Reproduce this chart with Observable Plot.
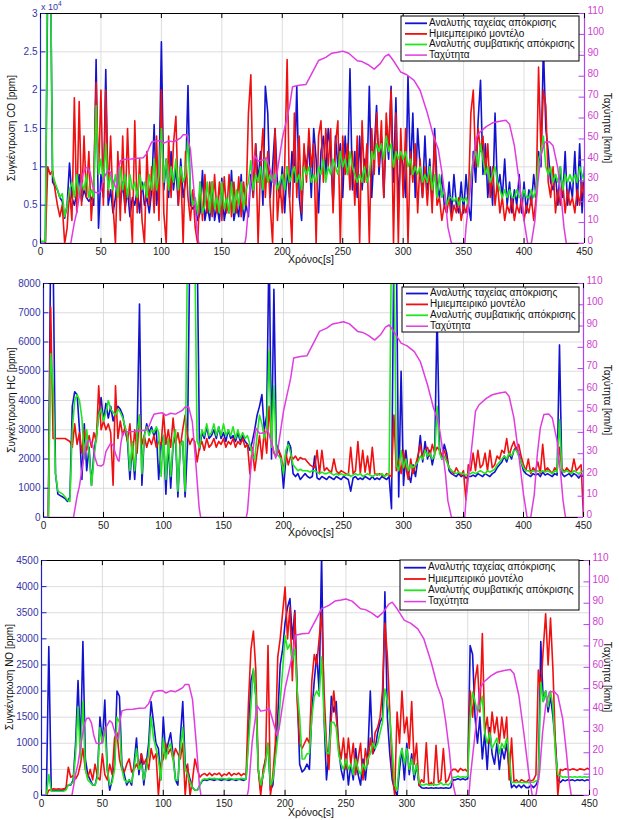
<!DOCTYPE html>
<html><head><meta charset="utf-8">
<script src="https://cdn.jsdelivr.net/npm/d3@7"></script>
<script src="https://cdn.jsdelivr.net/npm/@observablehq/plot@0.6"></script>
<style>
body{margin:0;background:#fff;}
#root{position:relative;width:619px;height:820px;overflow:hidden;font-family:"Liberation Sans",Arial,sans-serif;}
</style></head><body><div id="root"></div>
<script>
// ---------- data ----------
const tStep = 2; // seconds between samples of the emission series
const xTicks = [0,50,100,150,200,250,300,350,400,450];
const speedTicks = [0,10,20,30,40,50,60,70,80,90,100,110];
const legendLabels = ["Αναλυτής ταχείας απόκρισης","Ημιεμπειρικό μοντέλο","Αναλυτής συμβατικής απόκρισης","Ταχύτητα"];
const coTicks = [0,5000,10000,15000,20000,25000,30000];
const hcTicks = [0,1000,2000,3000,4000,5000,6000,7000,8000];
const noTicks = [0,500,1000,1500,2000,2500,3000,3500,4000,4500];

// vehicle speed [km/h]
const speedT = [0,25,28,30,33,35,37,39,41,43,45,48,50,52,54,56,58,60,62,63,64.5,66,70,75,80,85,88,90,92,96,99,102,106,110,113,116,118,121,124,127,129.7,131,169,170,173,177,180,185,187,189,193.5,195,200,206,208.5,214,219.5,225,230,236,241,246,250,255,262,266,271,276,281,285,288,292,298,303,309,314,320,325,329,332,335,337,340,351,352,355,358,360,363,369,374,380,385,388,392,396,400,403,406,409,411.5,414,417,421,424,428,431,433,435,450];
const speedV = [0,0,10,15,26,33,36,36.3,34,28,24.5,24.2,25,31,33,35,34,30,27,26.5,35,39.6,40.3,40.4,40.8,41,43,46,48.5,49,49.2,48,49,48.6,49.5,50.5,52,52,45,25,4.6,0,0,3,25,42,39.5,40,41,37,28,31,50,65.5,75,75.7,76,82,87.5,89,91,91.5,92,91,87.4,87,85.5,83.4,86,89.5,90.5,87.4,82,80.7,78,73.3,62.4,51.5,45.2,34.3,20.3,7.8,0,0,7.8,23.4,39,50,53,56,57.7,58.5,59,57,46.8,29.6,10.9,0,0,10.9,29.6,42,48.4,48.7,46.8,35.9,20.3,7.8,0,0];

// CO [x1000 ppm], one value every 2 s from t=0
const coFast = [
0,0,0,35,40,8,7.5,7,6,5.5,
3.3,5,10.5,6,5,6.5,9,5.5,7,6,
5.5,6,5,24,2,9,6,22.7,5,7,
4,6,9,5,8,4.5,7,3.5,6,5,
7,4,8,5,6,4,7,15.5,5,8,
26.3,7,11,6,12,7,10,5,11,6,
8,20.6,5,4.5,5,3,4,9.5,3,5,
3,8,3,5,2.8,8.5,3,5,4,9.5,
3,5,3.5,9,3,5,3.5,9,6,13,
8,12,5,20.5,17,6,10,15,8,6,
10,4,10,6,12,8,20.5,6,3,12,
10,13,6,15,11,4,12,14,9,15,
12,5,14,10,13,6,14,9,22.8,7,
12,6,14,7,11,8,20.5,6,12,18,
9,14,6,15,11,20.5,8,19,5,12,
10,6,21.8,9,17,6,15,10,6,14,
7,11,5,15,8,6,9,5,4,8,
4,9,5,4,8,4,9,5,3,12,
8,16,21.3,9,13,6,10,5,17,7,
9,6,11,5,8,4,7,5,9,4,
8,4,7,5,9,6,12,10,25.8,15,
12,8,7,9,5,10,6,12,5,8,
6,12,5,13,4,10];
const coModel = [
0,0,0,10,9,9.5,7,5,3.5,5,
0,2,7,3,19,4,18.5,5,14,6,
12,3,8,21,9,20,5,20,6,14,
5,0,12,3,14,4,15,6,0,16,
4,11,3,0,12,5,10,4,14,3,
20,4,0,14,6,13,16.6,5,10,0,
12,6,3,7,2,0,8,3,9,4,
8,3.5,9,4,8,3,8.7,4,9,3.5,
8,4,8.7,3.5,8,5,17,22,6,13,
0,10,15,6,12,5,0,15,3,8,
4,10,24,6,0,17,6,14,4,13,
8,15,10,13,0,14,16,8,15,10,
15,4,13,16,0,14,9,13,7,12,
5,14,0,16,8,13,0,15,9,17,
10,16,6,17,12,20,0,17,0,15,
6,15,0,12,8,13,4,11,6,10,
5,10,4,14,5,6,3,5,4,6,
3,5,4,6,3,5,4,6,17,20,
10,15,12,14,9,13,6,10,5,8,
4,6,3,5,4,6,3,5,4,6,
3,5,4,6,3,6,23,12,20,18,
8,6,10,4,7,5,8,4,7,5,
6,4,7,5,8,6];
const coConv = [
0.3,0.3,0.3,40,40,9,8,7,6,6.5,
3.5,5,7,8,6,9,6,8,7,9,
6,7,6,18,9,11,8,13,7,9,
7,9,6,10,7,9,6,9,7,8,
6,9,7,8,6,9,7,11,7,9,
15,8,11,7,10,8,11,7,10,8,
9,14,7,5,6,4,8,4,5,8,
4,8,4.5,6,4,8,4.5,6,4,8,
4,7,5,8,4.5,7,8,10.8,7,9,
8,10,7,11.2,8,9,8,9,7,8,
9,7,10,8,9,10,8,9,7,10,
9,10,8,9,8,10,9,11,8,10,
9,11,10,9,12,10,11,9,12,10,
9,8,9,8,10,8,9,12,11,13,
12,13,11,14,12,13,10,12,11,12,
11,12,10,11,9,10,9,10,8,9,
8,10,7,9,6,9,6,7,5,6,
6,5.5,6,5,6,5.5,6,5,9,11,
12,10,13,11,9,10,8,9,10,8,
7,6,7,6,7,6,6,7,6,6,
7,6,6,7,6,7,11,12,14,10,
9,10,8,9,8,10,7,9,8,9,
8,9,8,10,9,8];

// HC [ppm]
const hcFast = [
0,0,0,9500,9000,1500,800,750,700,650,
550,700,3800,4300,4200,3000,1300,3200,1600,2400,
1100,2200,2800,3500,4100,3300,3900,3400,3800,3300,
3600,3800,3700,3500,3000,2600,1300,2500,1300,2800,
7300,1100,2800,3200,2900,3100,2800,3000,1300,2500,
2800,800,2600,1000,2500,2800,700,2500,2600,700,
2500,9500,9500,9500,9500,2300,2900,2700,3100,2700,
2800,3000,2700,3100,2700,2900,2600,3000,2700,2800,
2600,2900,2600,2800,2600,2500,2300,2600,3000,3500,
3800,4200,3000,3500,9500,2000,7800,2500,2300,2000,
1000,2000,2600,2400,1500,1400,1500,1300,1400,1500,
1400,1350,1400,2100,1350,1300,1400,1350,1300,1400,
1350,1300,1400,1350,1300,1400,1350,1300,900,1350,
1400,1300,1350,1300,1400,1350,1300,1400,1300,1350,
1300,1400,1350,1300,1400,300,9500,9500,700,5000,
1100,2300,1500,1200,1800,1400,2000,2800,1900,2600,
2000,2300,1800,2200,7000,2400,2000,2500,2200,1600,
1500,1450,1400,1500,1400,1450,1350,1400,1400,1450,
1400,1500,1450,1400,1500,1450,1400,1500,1550,1700,
1800,1900,2100,1900,2200,2000,2300,2400,2200,1900,
1600,1500,1450,1400,1500,1450,1500,1400,1550,1450,
1500,1450,1400,1500,1450,5900,1500,1400,1450,1500,
1400,1500,1450,1350,1450,1400];
const hcModel = [
0,0,0,7200,2700,2700,2700,2700,2700,2700,
2650,2600,2400,3200,2500,2900,2200,3000,2300,2800,
2400,2900,2600,4500,3000,3300,3000,3200,2900,1100,
4500,2700,3300,2800,3100,2600,3200,2000,3000,2200,
3500,2500,2800,2400,2700,2500,2800,2400,2600,2500,
3550,2500,3000,2400,3400,2500,2900,2400,3000,3500,
2800,2500,2700,2600,1900,2400,2600,2300,2700,2400,
2500,2700,2400,2600,2500,2700,2400,2600,2500,2700,
2400,2600,2500,2700,2400,2500,1500,2400,1600,2200,
2800,2000,3000,2200,3800,2600,2200,2100,2300,2100,
1600,2200,1800,2100,2000,2100,1950,2050,2000,2000,
1900,1800,1750,1700,2300,1500,2300,1600,1700,1600,
1550,2000,1600,1500,1600,1550,1500,1450,2400,1500,
1600,2600,1500,2300,1550,2100,1500,2400,1500,1450,
1500,1450,1400,1500,1450,1400,3500,1600,2000,1500,
2300,1700,1300,2000,1500,1800,2100,2500,2000,2300,
2400,2100,2500,2200,2400,2300,2100,2300,2000,1700,
1600,1500,1700,1550,1450,1600,600,1800,1600,2200,
1600,2300,1700,1800,2200,1600,2300,1700,1800,2100,
2000,2300,2200,2700,2100,2400,2600,2300,2500,2100,
1800,1600,2000,1500,1700,1600,1900,1500,2500,1600,
1700,1600,1500,1700,1600,2400,1700,1550,1700,1600,
1550,2000,1600,1700,1800,0];
const hcConv = [
0,0,0,5600,4500,1500,900,850,800,700,
600,550,3000,4000,4200,4000,3400,2000,3000,2200,
1100,2000,2700,3500,3700,3300,3600,4000,3700,3600,
3500,3700,3600,3400,3100,2800,1600,2600,1600,2900,
3500,1500,2800,3100,2800,3000,2900,3100,2900,1400,
2800,1300,2700,1400,2600,3000,900,2500,2600,900,
9500,9500,9500,9500,2600,2400,3000,2800,3200,2800,
2900,3200,2800,3100,2800,3200,2800,3000,2800,3100,
2700,3000,2700,2900,2700,2800,2500,2100,2000,2800,
3500,3200,2700,3000,5700,2400,4500,2200,2100,2000,
1500,2300,2500,2200,1800,1700,1600,1650,1600,1600,
1600,1550,1600,1600,1550,1500,1550,1500,1500,1550,
1500,1450,1500,1450,1500,1450,1450,1500,1400,1450,
1500,1450,1500,1400,1450,1500,1450,1400,1450,1500,
1450,1500,1400,1450,1500,9500,9500,1800,1600,2300,
1700,2000,1600,1800,1700,1800,1900,2100,2000,2300,
2100,2200,2000,2100,3800,2200,2000,2100,1900,1700,
1600,1550,1500,1550,1500,1500,1450,1500,1500,1550,
1500,1550,1600,1550,1500,1600,1550,1600,1650,1800,
1900,2000,2100,2000,2200,2100,2300,2300,2100,1900,
1700,1600,1600,1550,1600,1550,1600,1550,1600,1550,
1600,1550,1500,1600,1550,3350,1600,1550,1600,1550,
1500,1600,1550,1500,1550,1600];

// NO [ppm]
const noFast = [
0,0,0,2850,100,100,100,100,100,100,
150,200,200,300,1000,2200,900,2950,700,400,
300,200,200,400,1500,1000,1830,500,100,300,
600,2000,1900,600,400,200,300,200,600,1100,
400,800,200,600,1000,1800,1400,1000,900,300,
1500,800,1000,1200,800,300,200,1100,1800,600,
500,300,150,100,100,200,280,300,290,310,
300,290,310,300,290,310,300,290,310,300,
290,310,300,290,310,1200,2200,2400,1900,500,
100,400,700,1000,100,200,800,1500,2500,2800,
3300,3600,3770,3000,3540,2000,600,450,500,600,
500,1600,2200,2700,2000,4600,1500,300,800,1900,
1600,1800,900,500,300,800,200,600,300,900,
400,200,700,300,800,2000,800,900,1200,1400,
1500,3900,1500,800,300,100,0,500,900,300,
1000,400,800,300,600,200,150,140,150,140,
150,140,150,140,150,140,150,140,150,300,
300,320,300,320,300,320,2870,2700,1500,1000,
1500,700,1200,500,1300,800,600,1000,500,900,
700,1000,500,150,200,150,200,150,200,150,
150,200,150,200,300,2950,1800,2000,1600,1900,
1500,1000,300,250,300,280,300,290,300,280,
300,290,300,280,300,290];
const noModel = [
0,0,0,100,120,130,120,130,120,130,
120,540,350,380,320,400,600,900,500,350,
500,300,600,350,300,800,400,300,600,400,
1100,1200,700,500,450,600,700,450,500,600,
500,800,600,700,500,900,700,800,0,600,
700,1000,800,900,700,900,800,700,1000,0,
600,0,300,700,500,350,400,420,380,430,
380,420,400,430,370,410,390,440,380,420,
400,430,380,420,390,1800,2800,3150,2400,500,
0,500,700,2870,0,400,1000,2650,3000,3500,
3990,3000,3600,2200,3500,1800,1000,900,1000,1100,
1000,2200,2700,2500,3000,3510,2000,1000,500,1500,
2000,1500,1000,700,1100,500,1100,600,1000,400,
700,1000,300,900,600,1100,800,1210,1300,1500,
2000,3300,2680,1600,500,0,1600,1000,2000,1200,
1500,900,1800,600,1000,190,300,250,1010,200,
250,200,960,250,300,900,250,300,450,500,
500,450,520,480,500,450,2000,1500,2200,2500,
1600,3100,1200,1500,1000,1600,1200,1500,1000,1500,
1100,1500,300,1100,260,300,250,300,280,250,
300,280,300,400,2400,2000,2800,3480,2500,3400,
2400,1000,0,500,480,510,500,490,510,500,
480,510,500,490,520,500];
const noConv = [
0,0,0,400,80,80,80,80,80,80,
100,200,220,250,800,1700,700,1800,500,300,
250,200,200,350,1300,1000,1300,500,200,250,
500,1500,1400,500,300,250,300,250,500,900,
500,600,300,500,800,1510,1100,900,700,300,
1100,700,900,1000,700,300,300,900,1300,500,
400,250,150,100,100,200,300,320,310,330,
320,330,310,320,330,320,310,330,320,310,
320,310,330,320,310,1000,1725,2430,1900,500,
200,400,600,1000,200,300,700,1100,1800,2400,
3065,2800,2900,2600,2800,2000,1500,700,700,800,
800,1500,1900,2000,1900,2650,1500,830,800,1400,
1400,1300,800,600,500,700,500,600,400,700,
500,400,600,500,700,800,1000,900,1000,1200,
1400,2040,1800,1500,900,200,100,700,900,600,
900,500,700,400,600,250,200,200,220,200,
200,220,200,210,250,200,220,200,250,350,
350,370,350,360,350,370,1500,1980,1800,1600,
1700,1900,1200,1000,1200,900,1000,1100,800,1000,
900,1100,800,250,250,250,260,250,250,250,
250,260,250,280,300,2170,1800,2000,1700,2000,
1700,800,400,380,350,360,350,360,350,360,
350,360,350,360,350,360];

// ---------- drawing ----------
const root = document.getElementById("root");
const C = {fast:"#1212d0", model:"#f01010", conv:"#20e620", speed:"#e03ce0",
           leftAx:"#2020c8", rightAx:"#b044f0", leftTxt:"#3434a8", rightTxt:"#d040d0", grid:"#d4d4d4"};
const FONT = "'Liberation Sans', Arial, sans-serif";
const pts = (arr, unit) => arr.map((v,i)=>({t:i*tStep, v:v*unit}));

function panel(cfg){
  const k = cfg.ymax/110;
  const sp = speedT.map((t,i)=>({t, v:speedV[i]*k}));
  const lineOpt = c => ({x:"t", y:"v", stroke:c, strokeWidth:1.6, clip:true});
  const p = Plot.plot({
    width:619, height:cfg.height,
    marginTop:cfg.mt, marginBottom:cfg.mb, marginLeft:cfg.ml, marginRight:cfg.mr,
    x:{domain:[0,450]}, y:{domain:[0,cfg.ymax]},
    style:{fontFamily:FONT, fontSize:"10px", background:"transparent", overflow:"visible"},
    marks:[
      Plot.ruleX(xTicks.slice(1,-1), {stroke:C.grid, strokeWidth:0.8}),
      Plot.ruleY(cfg.yticks.slice(1,-1), {stroke:C.grid, strokeWidth:0.8}),
      Plot.line(pts(cfg.fast,cfg.unit), lineOpt(C.fast)),
      Plot.line(pts(cfg.model,cfg.unit), lineOpt(C.model)),
      Plot.line(pts(cfg.conv,cfg.unit), lineOpt(C.conv)),
      Plot.line(sp, {x:"t", y:"v", stroke:C.speed, strokeWidth:1.5, clip:true}),
      Plot.ruleY([0, cfg.ymax], {stroke:"#000", strokeWidth:1}),
      Plot.ruleX([0], {stroke:C.leftAx, strokeWidth:1.2}),
      Plot.ruleX([450], {stroke:C.rightAx, strokeWidth:1.2}),
      Plot.ruleY(cfg.yticks, {x1:0, x2:4.5, stroke:C.leftAx}),
      Plot.ruleY(speedTicks.map(s=>s*k), {x1:445.5, x2:450, stroke:C.rightAx}),
      Plot.ruleX(xTicks, {y1:0, y2:cfg.ymax*0.022, stroke:"#000"}),
      Plot.ruleX(xTicks, {y1:cfg.ymax, y2:cfg.ymax*0.978, stroke:"#000"}),
      Plot.axisX({ticks:xTicks, tickSize:0, tickPadding:4, label:null, color:"#222"}),
      Plot.axisY({ticks:cfg.yticks, tickSize:0, tickPadding:3, label:null, tickFormat:cfg.yfmt, color:C.leftTxt}),
      Plot.axisY({ticks:speedTicks.map(s=>s*k), anchor:"right", tickSize:0, tickPadding:3, label:null, dy:-2.5,
                  tickFormat:d=>String(Math.round(d/k)), color:C.rightTxt})
    ]
  });
  p.style.position="absolute"; p.style.left="0px"; p.style.top=cfg.top+"px";
  root.appendChild(p);
}

panel({top:0, height:270, mt:13, mb:27, ml:40, mr:35, ymax:30000, yticks:coTicks, yfmt:d=>String(d/10000),
       fast:coFast, model:coModel, conv:coConv, unit:1000});
panel({top:270, height:270, mt:13, mb:23, ml:43, mr:36, ymax:8000, yticks:hcTicks, yfmt:d=>String(d),
       fast:hcFast, model:hcModel, conv:hcConv, unit:1});
panel({top:545, height:275, mt:15, mb:25, ml:41, mr:30, ymax:4500, yticks:noTicks, yfmt:d=>String(d),
       fast:noFast, model:noModel, conv:noConv, unit:1});

// ---------- overlay: titles, legends ----------
const ov = d3.select(root).append("svg").attr("width",619).attr("height",820)
  .style("position","absolute").style("left","0px").style("top","0px").style("font-family",FONT);

const ylabs = [["Συγκέντρωση CO [ppm]",12,128],["Συγκέντρωση HC [ppm]",12,400],["Συγκέντρωση NO [ppm]",10,677]];
ylabs.forEach(([s,x,y])=>ov.append("text").attr("transform",`translate(${x},${y}) rotate(-90)`)
  .attr("text-anchor","middle").attr("dominant-baseline","middle").attr("font-size",10).attr("fill","#111").text(s));
[128,400,677].forEach(y=>ov.append("text").attr("transform",`translate(607,${y}) rotate(90)`)
  .attr("text-anchor","middle").attr("dominant-baseline","middle").attr("font-size",10).attr("fill","#111").text("Ταχύτητα [km/h]"));
[260,533,813].forEach(y=>ov.append("text").attr("x",311).attr("y",y)
  .attr("text-anchor","middle").attr("dominant-baseline","middle").attr("font-size",10.5).attr("fill","#111").text("Χρόνος[s]"));

const ex = ov.append("text").attr("x",41).attr("y",10).attr("font-size",9).attr("fill",C.leftTxt);
ex.append("tspan").text("x 10");
ex.append("tspan").attr("dy",-4).attr("font-size",6.5).text("4");

const legends = [{x:401,y:16,w:178,h:45,r0:23.3,dr:10.6},{x:402,y:287,w:177,h:45,r0:293.5,dr:10.9},{x:400,y:560,w:179,h:50,r0:567.7,dr:11.3}];
const lc = [C.fast, C.model, C.conv, C.speed];
legends.forEach(L=>{
  const g = ov.append("g");
  g.append("rect").attr("x",L.x).attr("y",L.y).attr("width",L.w).attr("height",L.h).attr("fill","#fff").attr("stroke","#000").attr("stroke-width",1);
  legendLabels.forEach((s,i)=>{
    const yy = L.r0 + i*L.dr;
    g.append("line").attr("x1",L.x+4).attr("x2",L.x+26).attr("y1",yy).attr("y2",yy).attr("stroke",lc[i]).attr("stroke-width",i==3?1.5:1.8);
    g.append("text").attr("x",L.x+28).attr("y",yy).attr("dominant-baseline","middle").attr("font-size",10).attr("fill","#111").text(s);
  });
});
</script></body></html>
